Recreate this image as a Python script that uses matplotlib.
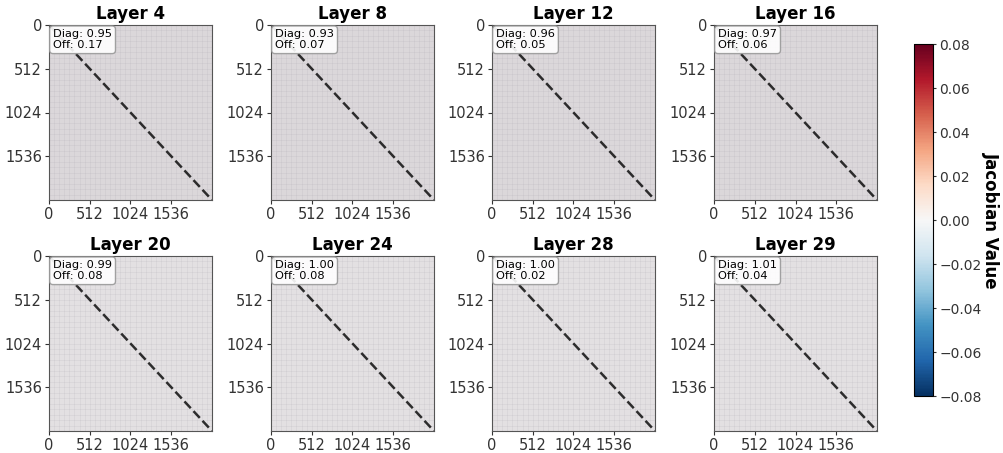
import numpy as np
import matplotlib
matplotlib.use("Agg")
import matplotlib.pyplot as plt

plt.rcParams["font.family"] = ["DejaVu Sans"]

# values
layers = [4, 8, 12, 16, 20, 24, 28, 29]
diag_vals = [0.95, 0.93, 0.96, 0.97, 0.99, 1.00, 1.00, 1.01]
off_vals = [0.17, 0.07, 0.05, 0.06, 0.08, 0.08, 0.02, 0.04]
dim = 2048
ticks = [0, 512, 1024, 1536]
vlim = 0.08

fig = plt.figure(figsize=(10.04, 4.53), dpi=100)

lefts = [49, 271, 492, 714]
bottoms = [453 - 200, 453 - 431]
w, h = 163, 175

for i, layer in enumerate(layers):
    r, c = divmod(i, 4)
    ax = fig.add_axes([lefts[c] / 1004, bottoms[r] / 453, w / 1004, h / 453])
    ax.set_facecolor((90 / 255, 70 / 255, 90 / 255))
    mat = np.zeros((32, 32))
    ax.imshow(mat, cmap="RdBu_r", vmin=-vlim, vmax=vlim,
              extent=[0, dim, dim, 0], alpha=0.83 if r == 0 else 0.88,
              interpolation="nearest", aspect="auto")
    for g in range(64, dim, 64):
        ax.axhline(g, color="#9a90a0", lw=0.4, alpha=0.2)
        ax.axvline(g, color="#9a90a0", lw=0.4, alpha=0.2)
    ax.plot([0, dim], [0, dim], "k--", lw=1.8, alpha=0.8)
    ax.set_xlim(0, dim)
    ax.set_ylim(dim, 0)
    ax.set_xticks(ticks)
    ax.set_yticks(ticks)
    ax.tick_params(labelsize=10.5, colors="#333333", length=3, pad=2)
    for s in ax.spines.values():
        s.set_color("#555555")
    ax.set_title(f"Layer {layer}", fontsize=12, fontweight="bold", pad=4)
    ax.text(0.025, 0.975, f"Diag: {diag_vals[i]:.2f}\nOff: {off_vals[i]:.2f}",
            transform=ax.transAxes, fontsize=8.2, va="top", ha="left",
            linespacing=1.1,
            bbox=dict(boxstyle="round,pad=0.3", fc="white", ec="#999999", alpha=0.9))

cax = fig.add_axes([914 / 1004, (453 - 396) / 453, 19 / 1004, 352 / 453])
sm = matplotlib.cm.ScalarMappable(cmap="RdBu_r", norm=plt.Normalize(-vlim, vlim))
cb = fig.colorbar(sm, cax=cax)
cb.set_ticks(np.arange(-0.08, 0.081, 0.02))
cb.ax.tick_params(labelsize=10, colors="#333333", length=2.5, pad=2)
cb.set_label("Jacobian Value", rotation=270, labelpad=13, fontsize=12, fontweight="bold")

fig.savefig("out.png", dpi=100)
